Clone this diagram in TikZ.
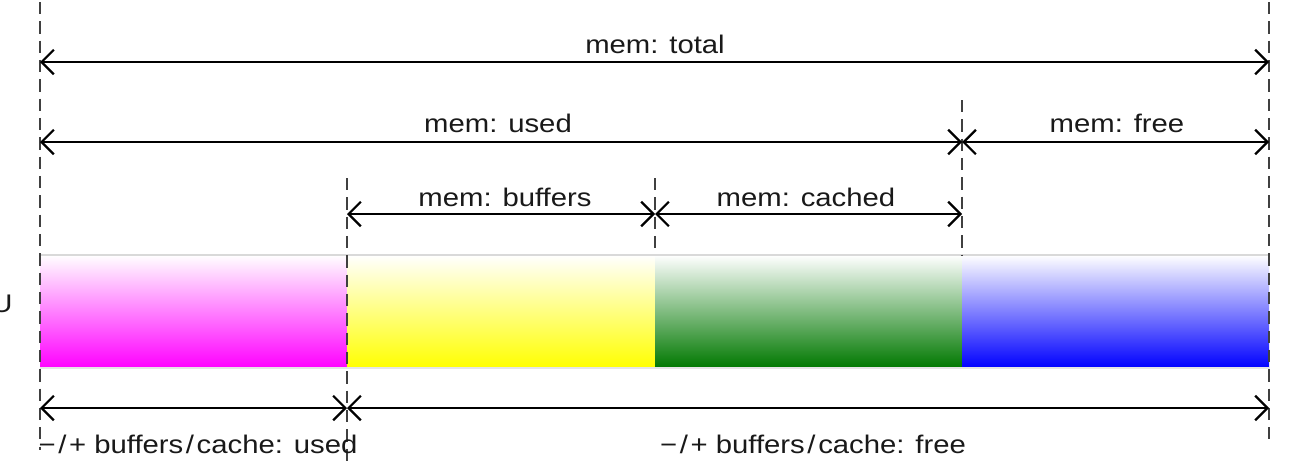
\documentclass[tikz,border=0pt]{standalone}
\usepackage{fontspec}
\setmainfont[FakeStretch=1.15]{Liberation Sans}
\usetikzlibrary{arrows.meta}
\newcommand{\wsl}{\kern1.5pt/\kern1.5pt}
\begin{document}
\begin{tikzpicture}[x=0.02cm,y=-0.02cm,
  guide/.style={draw=black!75, line width=0.9pt, dash pattern=on 7pt off 4pt},
  dim/.style={draw=black, line width=1.6pt, {Straight Barb[length=7pt,width=14pt,line width=1.3pt]}-{Straight Barb[length=7pt,width=14pt,line width=1.3pt]}},
  lbl/.style={font=\fontsize{14.5}{16}\selectfont, inner sep=0pt, text=black!90}
]
\useasboundingbox (0,0) rectangle (1294,474);
% guide lines
\coordinate (a0) at (40,2);   \coordinate (a1) at (40,450);
\coordinate (b0) at (347,178); \coordinate (b1) at (347,462);
\coordinate (c0) at (655,178); \coordinate (c1) at (655,255);
\coordinate (d0) at (962,100); \coordinate (d1) at (962,255);
\coordinate (e0) at (1269,2); \coordinate (e1) at (1269,446);
% bar
\shade[top color=white, bottom color={rgb,255:red,255;green,0;blue,255}] (40,255) rectangle (347,368);
\shade[top color=white, bottom color={rgb,255:red,255;green,255;blue,0}] (347,255) rectangle (655,368);
\shade[top color=white, bottom color={rgb,255:red,0;green,120;blue,0}] (655,255) rectangle (962,368);
\shade[top color=white, bottom color={rgb,255:red,0;green,0;blue,255}] (962,255) rectangle (1269,368);
\draw[black!15, line width=1.2pt] (40,255) -- (1269,255);
\draw[black!10, line width=0.8pt] (40,368) -- (1269,368);
\draw[guide] (a0) -- (a1);
\draw[guide] (b0) -- (b1);
\draw[guide] (c0) -- (c1);
\draw[guide] (d0) -- (d1);
\draw[guide] (e0) -- (e1);
% dimension arrows
\coordinate (t0) at (40,62);  \coordinate (t1) at (1269,62);
\coordinate (u0) at (40,142); \coordinate (u1) at (962,142); \coordinate (u2) at (1269,142);
\coordinate (v0) at (347,214); \coordinate (v1) at (655,214); \coordinate (v2) at (962,214);
\coordinate (w0) at (40,408); \coordinate (w1) at (347,408); \coordinate (w2) at (1269,408);
\draw[dim] (t0) -- (t1);
\draw[dim] (u0) -- (u1);
\draw[dim] (u1) -- (u2);
\draw[dim] (v0) -- (v1);
\draw[dim] (v1) -- (v2);
\draw[dim] (w0) -- (w1);
\draw[dim] (w1) -- (w2);
% labels
\node[lbl] (lt) at (655,44) {mem: total};
\node[lbl] (lu) at (498,123) {mem: used};
\node[lbl] (lf) at (1117,123) {mem: free};
\node[lbl] (lb) at (505,197) {mem: buffers};
\node[lbl] (lc) at (806,197) {mem: cached};
\node[lbl] (lbu) at (198,444) {−\wsl+ buffers\wsl cache: used};
\node[lbl] (lbf) at (813,444) {−\wsl+ buffers\wsl cache: free};
\node[lbl, anchor=east] (lx) at (13,304) {U};
\end{tikzpicture}
\end{document}
